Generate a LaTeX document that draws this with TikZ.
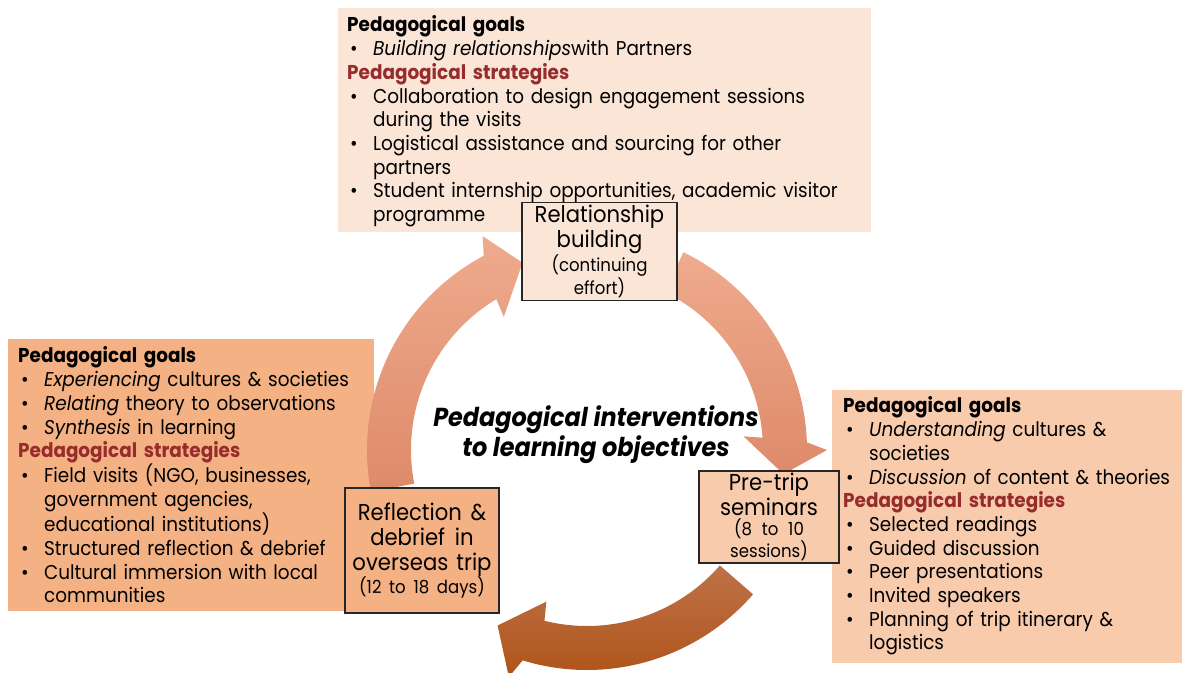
\documentclass[tikz,border=0pt]{standalone}
\usepackage{fontspec}
\setmainfont{Poppins}[FakeStretch=0.92]
\usepackage{tikz}
\usetikzlibrary{positioning}
\usetikzlibrary{calc}

\definecolor{toppanel}{RGB}{251,229,214}
\definecolor{leftpanel}{RGB}{244,177,131}
\definecolor{rightpanel}{RGB}{248,203,173}
\definecolor{stratred}{RGB}{150,44,44}
\definecolor{arclight}{RGB}{238,171,141}
\definecolor{arcdark}{RGB}{222,138,106}
\definecolor{brownlight}{RGB}{190,114,72}
\definecolor{browndark}{RGB}{174,82,22}

\newcommand{\goalhead}{\noindent{\bfseries Pedagogical goals}\par}
\newcommand{\strathead}{\noindent{\bfseries\color{stratred}Pedagogical strategies}\par}
\newcommand{\pbul}[1]{\noindent\hangindent=26pt\hangafter=1\makebox[26pt][l]{\hspace{3pt}\textbullet}#1\par}
\newcommand{\bigstage}{\fontsize{23}{25}\selectfont\spaceskip 7.5pt plus 2pt\relax}
\newcommand{\smallstage}{\fontsize{18}{20}\selectfont\spaceskip 6.5pt plus 2pt\relax}

\begin{document}
\begin{tikzpicture}[x=1pt, y=1pt]
            \tikzset{panel/.style={inner sep=0, outer sep=0, anchor=north west},
                    ptext/.style={inner sep=0, anchor=base west, align=left, text width=#1,
                                  font={\fontsize{20}{23.7}\selectfont}},
                    stage/.style={draw=black!85, line width=1.2pt, inner sep=2.5pt, align=center}}
            \useasboundingbox (0,0) rectangle (1182,672);
            \node[panel, fill=toppanel, minimum width=533pt, minimum height=224pt] (toppanel) at (338,664) {};
            \node[panel, fill=leftpanel, minimum width=366pt, minimum height=272pt] (leftpanel) at (8,333) {};
            \node[panel, fill=rightpanel, minimum width=350pt, minimum height=273pt] (rightpanel) at (832,282) {};
            \node[ptext=560pt] (toptext) at (347,640) {\goalhead
                \pbul{\emph{Building relationships}with Partners}
                \strathead
                \pbul{Collaboration to design engagement sessions\newline during the visits}
                \pbul{Logistical assistance and sourcing for other\newline partners}
                \pbul{Student internship opportunities, academic visitor\newline programme}};
            \node[ptext=400pt] (lefttext) at (18,309) {\goalhead
                \pbul{\emph{Experiencing} cultures \& societies}
                \pbul{\emph{Relating} theory to observations}
                \pbul{\emph{Synthesis} in learning}
                \strathead
                \pbul{Field visits (NGO, businesses,\newline government agencies,\newline educational institutions)}
                \pbul{Structured reflection \& debrief}
                \pbul{Cultural immersion with local\newline communities}};
            \node[ptext=400pt] (righttext) at (843,259) {\goalhead
                \pbul{\emph{Understanding} cultures \&\newline societies}
                \pbul{\emph{Discussion} of content \& theories}
                \strathead
                \pbul{Selected readings}
                \pbul{Guided discussion}
                \pbul{Peer presentations}
                \pbul{Invited speakers}
                \pbul{Planning of trip itinerary \&\newline logistics}};
            \coordinate (hub) at (587,222);
            \begin{scope}[shift={(hub)}]
                \shade[top color=arclight, bottom color=arcdark]
                    (191:220) arc[start angle=191, end angle=118, radius=220] -- (116:238) -- (109:198)
                    -- (122:157) -- (121:176) arc[start angle=121, end angle=191, radius=176] -- cycle;
                \shade[top color=arclight, bottom color=arcdark]
                    (64:220) arc[start angle=64, end angle=2, radius=220] -- (0:240) -- (-7:198)
                    -- (5:157) -- (4:176) arc[start angle=4, end angle=64, radius=176] -- cycle;
                \shade[top color=brownlight, bottom color=browndark]
                    (-41:220) arc[start angle=-41, end angle=-107, radius=220] -- (-109:240) -- (-117:197)
                    -- (-105:157) -- (-104:176) arc[start angle=-104, end angle=-41, radius=176] -- cycle;
            \end{scope}
            \node[font=\fontsize{26}{30}\selectfont\bfseries\itshape, align=center] (hubtitle) at (596,237)
                {Pedagogical interventions\\to learning objectives};
            \node[stage, fill=toppanel, text width=150pt, minimum height=93pt] (relation) at (599.5,420.5)
                {\bigstage Relationship\par building\par
                 \smallstage (continuing\par effort)};
            \node[stage, fill=rightpanel, text width=135pt, minimum height=90pt] (pretrip) at (769,155)
                {\bigstage Pre-trip\par seminars\par
                 \smallstage (8 to 10\par sessions)};
            \node[stage, fill=leftpanel, text width=149pt, minimum height=125pt] (reflect) at (422,121.5)
                {\bigstage Reflection \&\par debrief in\par overseas trip\par
                 \smallstage (12 to 18 days)};
        \end{tikzpicture}
\end{document}
